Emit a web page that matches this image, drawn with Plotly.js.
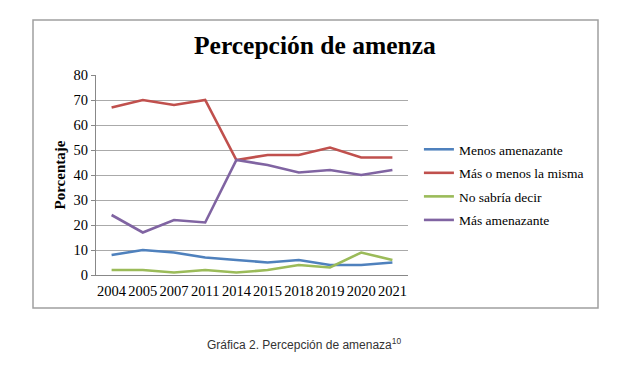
<!DOCTYPE html>
<html><head><meta charset="utf-8">
<script src="https://cdn.plot.ly/plotly-3.0.1.min.js"></script>
<style>html,body{margin:0;padding:0;background:#fff;}</style>
</head><body>
<div id="chart" style="width:638px;height:373px;"></div>
<script>
const years = ["2004","2005","2007","2011","2014","2015","2018","2019","2020","2021"];
const menosAmenazante = [8,10,9,7,6,5,6,4,4,5];
const masOMenos = [67,70,68,70,46,48,48,51,47,47];
const noSabria = [2,2,1,2,1,2,4,3,9,6];
const masAmenazante = [24,17,22,21,46,44,41,42,40,42];
const seriesNames = ["Menos amenazante","Más o menos la misma","No sabría decir","Más amenazante"];
const seriesColors = ["#4F81BD","#C0504D","#9BBB59","#8064A2"];
const seriesData = [menosAmenazante, masOMenos, noSabria, masAmenazante];

const serif = "Liberation Serif, DejaVu Serif, serif";
const traces = seriesData.map((d,i)=>({
  x: years, y: d, type: "scatter", mode: "lines", name: seriesNames[i],
  line: {color: seriesColors[i], width: 2.6}, legendgroup: "g"+i
}));

const layout = {
  width: 638, height: 373,
  margin: {l: 96, r: 230, t: 75, b: 98},
  paper_bgcolor: "#fff", plot_bgcolor: "#fff",
  showlegend: true,
  legend: {x: 1.035, y: 0.705, xanchor: "left", yanchor: "top",
    font: {family: serif, size: 13.5, color: "#000"}, tracegroupgap: 3,
    traceorder: "grouped", bgcolor: "rgba(0,0,0,0)"},
  xaxis: {type: "category", range: [-0.5, 9.5], showgrid: false, showline: true,
    linecolor: "#888", linewidth: 1, ticks: "", zeroline: false, tickangle: 0,
    ticklabelstandoff: 3,
    tickfont: {family: serif, size: 14.5, color: "#000"}, fixedrange: true},
  yaxis: {range: [0, 80], dtick: 10, showgrid: true, gridcolor: "#aaaaaa", gridwidth: 1,
    showline: true, linecolor: "#888", linewidth: 1, ticks: "outside", ticklen: 4,
    tickcolor: "#888", zeroline: false,
    tickfont: {family: serif, size: 14.5, color: "#000"},
    title: {text: "<b>Porcentaje</b>", font: {family: serif, size: 15, color: "#000"}, standoff: 4}},
  shapes: [{type: "rect", xref: "paper", yref: "paper",
    x0: (33-96)/312, x1: (598-96)/312, y0: -(308-275)/200, y1: 1+(75-20)/200,
    line: {color: "#a0a0a0", width: 1.5}}],
  annotations: [
    {text: "<b>Percepción de amenza</b>", xref: "paper", yref: "paper",
     x: (315-96)/312, y: 1+(75-45)/200, xanchor: "center", yanchor: "middle",
     showarrow: false, font: {family: serif, size: 25.5, color: "#000"}},
    {text: "Gráfica 2. Percepción de amenaza<sup>10</sup>", xref: "paper", yref: "paper",
     x: (304-96)/312, y: -(344-275)/200, xanchor: "center", yanchor: "middle",
     showarrow: false, font: {family: "Liberation Sans, Arial, sans-serif", size: 12, color: "#333"}}
  ]
};
Plotly.newPlot("chart", traces, layout, {displayModeBar: false, staticPlot: true});
</script>
</body></html>
